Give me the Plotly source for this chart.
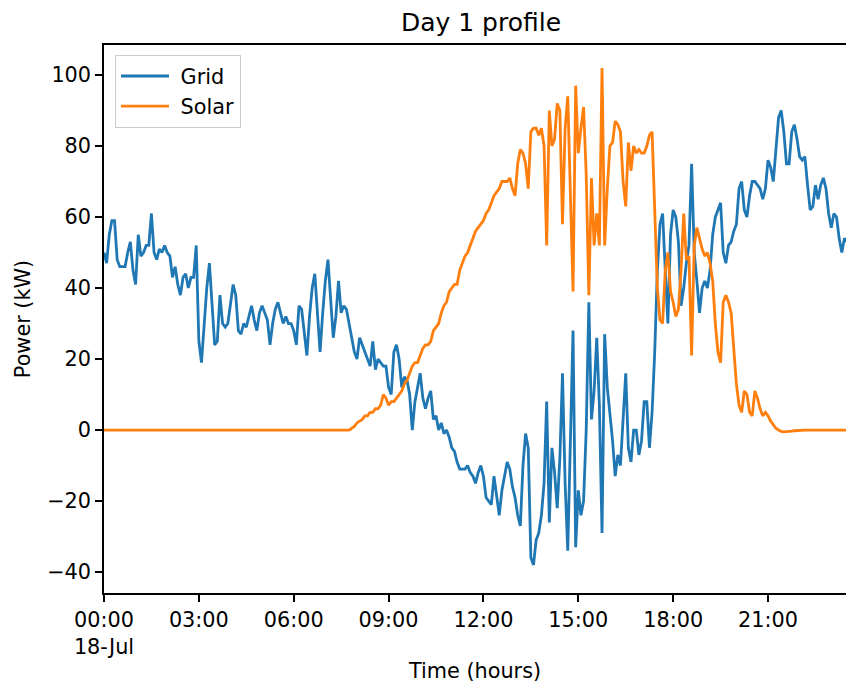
import pandas as pd
import plotly.graph_objects as go

# 5-minute samples for 18 July
times = pd.date_range("2019-07-18 00:00", periods=288, freq="5min")

grid_kw = [
    50, 47, 55, 59, 59, 48, 46, 46, 46, 50, 53, 45, 41, 55, 49, 50, 52, 52, 61, 50,
    48, 51, 50, 52, 50, 49, 43, 46, 41, 38, 43, 44, 40, 43, 43, 52,
    25, 19, 30, 40, 47, 35, 24, 25, 38, 30, 29, 30, 36, 41, 38, 28, 27, 30, 29, 32,
    35, 31, 28, 33, 35, 33, 31, 24, 30, 34, 36, 33, 30, 32, 30,
    30, 28, 24, 35, 34, 28, 21, 32, 40, 44, 32, 22, 33, 42, 48, 38, 26, 32, 42, 33,
    35, 34, 30, 26, 22, 20, 26, 24, 22, 20, 18, 25, 17, 20,
    19, 18, 18, 12, 10, 22, 24, 20, 12, 15, 14, 10, 0, 8, 12, 16, 9, 6, 9, 11,
    3, 4, 0, 2, -1, 0, -2, -5, -6, -9, -11, -11, -11, -10,
    -12, -13, -15, -12, -10, -13, -19, -20, -21, -13, -18, -24, -17, -13, -9, -11, -16, -19, -24, -27,
    -10, -1, -5, -36, -38, -31, -29, -24, -15, 8, -26, -5, -12, -22, -8, 16, -15,
    -34, -5, 28, -33, -17, -24, -20, 0, 36, 3, 11, 26, 7, -29, 27, 12, 5, -3, -13, -7,
    -10, 5, 16, -5, -9, 0, 0, -7, -3, 8, 8, -5, 5, 22, 45,
    58, 61, 45, 30, 55, 62, 60, 53, 35, 40, 47, 52, 75, 50, 42, 33, 40, 42, 40, 45,
    55, 60, 62, 64, 50, 47, 52, 53, 56, 58, 68, 70, 62, 60, 66,
    70, 70, 69, 68, 65, 68, 76, 74, 70, 78, 88, 90, 84, 75, 75, 84, 86, 82, 77, 76,
    77, 69, 62, 63, 69, 65, 69, 71, 68, 61, 57, 61, 60, 54, 50, 54, 53, 55, 52, 50,
    53, 52,
]

solar_kw = (
    [0] * 94
    + [0.5, 1, 2, 2.5, 3, 4, 4, 5, 5, 6, 6]
    + [7, 10, 9, 7, 8, 8, 9, 10, 11, 13, 14, 16, 18, 19, 19, 21, 23, 24, 24, 25,
       28, 29, 30, 33, 35, 36, 39, 40, 41, 41, 45, 47, 49, 50, 52, 54, 56, 57]
    + [58, 59, 61, 62, 64, 66, 67, 68, 70, 70, 70, 71, 68, 66, 75, 79, 78, 75, 68, 84,
       85, 85, 83, 85, 80, 52, 90, 80, 82, 92, 90, 58, 85]
    + [94, 65, 39, 97, 78, 85, 91, 72, 38, 71, 52, 61, 52, 102, 52, 68, 80, 81, 87, 86,
       84, 70, 63, 81, 73, 80, 78, 79, 78, 78, 80, 83, 84, 62, 40]
    + [31, 30, 45, 50, 39, 36, 32, 34, 45, 61, 48, 49, 21, 52, 57, 54, 51, 49, 50, 47,
       42, 30, 22, 19, 36, 38, 36, 33, 24, 13, 7, 5, 11, 10, 5, 4, 11, 9, 6, 4,
       5, 4, 2.5, 1.5, 0.5, 0, -0.4, -0.5, -0.5, -0.4, -0.3, -0.2, -0.1]
    + [0] * 24
)

x_tick_hours = [0, 3, 6, 9, 12, 15, 18, 21]
x_tick_text = ["00:00<br>18-Jul", "03:00", "06:00", "09:00", "12:00", "15:00", "18:00", "21:00"]
y_tick_vals = [-40, -20, 0, 20, 40, 60, 80, 100]
y_tick_text = ["\u221240", "\u221220", "0", "20", "40", "60", "80", "100"]

FONT = "DejaVu Sans"
BASE = 20.8
day0 = times[0]

fig = go.Figure()
fig.add_trace(go.Scatter(x=times, y=grid_kw, mode="lines", name="\u00a0Grid",
                         legendgroup="g", line=dict(color="#1f77b4", width=2.8)))
fig.add_trace(go.Scatter(x=times, y=solar_kw, mode="lines", name="\u00a0Solar",
                         legendgroup="s", line=dict(color="#ff7f0e", width=2.8)))

fig.update_layout(
    width=846, height=685,
    margin=dict(l=104, r=0, t=45, b=92),
    paper_bgcolor="white", plot_bgcolor="white",
    font=dict(family=FONT, size=BASE, color="black"),
    title=dict(text="Day 1 profile", font=dict(family=FONT, size=25, color="black"),
               xref="container", x=481 / 846, xanchor="center",
               yref="container", y=1 - 22 / 685, yanchor="middle"),
    showlegend=True,
    legend=dict(x=11 / 742, y=1 - 10 / 548, xanchor="left", yanchor="top",
                bgcolor="white", bordercolor="#cccccc", borderwidth=1,
                font=dict(family=FONT, size=BASE, color="black"),
                itemwidth=48, tracegroupgap=0),
)

fig.update_xaxes(
    type="date",
    range=[day0, day0 + pd.Timedelta(hours=742 / 31.62)],
    tickvals=[day0 + pd.Timedelta(hours=h) for h in x_tick_hours],
    ticktext=x_tick_text,
    ticks="outside", ticklen=7, tickwidth=1.5, tickcolor="black",
    showline=True, linecolor="black", linewidth=1.5, mirror=True,
    showgrid=False, zeroline=False,
    title=dict(text="Time (hours)", standoff=6, font=dict(family=FONT, size=BASE)),
)
fig.update_yaxes(
    range=[-45.9, 108.45],
    tickvals=y_tick_vals, ticktext=y_tick_text,
    ticks="outside", ticklen=7, tickwidth=1.5, tickcolor="black",
    showline=True, linecolor="black", linewidth=1.5, mirror=False,
    showgrid=False, zeroline=False,
    title=dict(text="Power (kW)", standoff=11, font=dict(family=FONT, size=BASE)),
)

fig.write_html("out.html")
